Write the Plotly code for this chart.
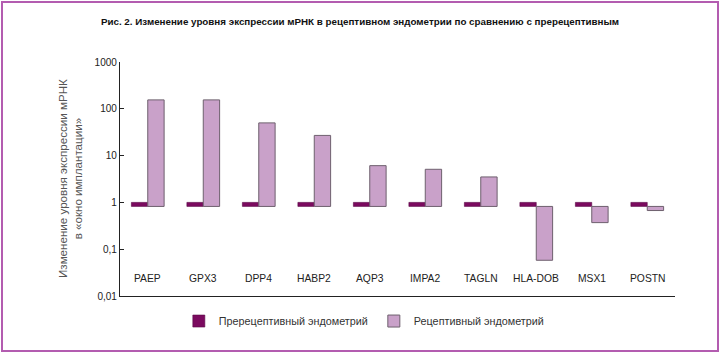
import plotly.graph_objects as go

genes = ["PAEP", "GPX3", "DPP4", "HABP2", "AQP3", "IMPA2", "TAGLN", "HLA-DOB", "MSX1", "POSTN"]
prereceptive = [1, 1, 1, 1, 1, 1, 1, 1, 1, 1]
receptive = [155, 155, 50, 27, 6.1, 5.1, 3.5, 0.058, 0.37, 0.67]
bar_base = 0.82

y_tickvals = [0.01, 0.1, 1, 10, 100, 1000]
y_ticktext = ["0,01", "0,1", "1", "10", "100", "1000"]

title_text = "Рис. 2. Изменение уровня экспрессии мРНК в рецептивном эндометрии по сравнению с пререцептивным"
ytitle_text = "Изменение уровня экспрессии мРНК<br>в «окно имплантации»"
names = ["Пререцептивный эндометрий", "Рецептивный эндометрий"]

dark = "#7b0a5f"
light = "#c9a1c9"

fig = go.Figure()
fig.add_trace(go.Bar(
    x=genes, y=[v - bar_base for v in prereceptive], base=[bar_base] * len(genes),
    name=names[0], marker=dict(color=dark, line=dict(color="#5a0846", width=0.6)),
))
fig.add_trace(go.Bar(
    x=genes, y=[v - bar_base for v in receptive], base=[bar_base] * len(genes),
    name=names[1], marker=dict(color=light, line=dict(color="#6e606e", width=1)),
))

annotations = [dict(text=ytitle_text, textangle=-90, xref="paper", yref="paper",
                    x=(70 - 120) / 555, y=(296 - 179) / 234, xanchor="center", yanchor="middle",
                    showarrow=False, font=dict(size=11.6, color="#555"))]
for g in genes:
    annotations.append(dict(text=g, x=g, xref="x", yref="paper", y=(296 - 278) / 234,
                            xanchor="center", yanchor="middle", showarrow=False,
                            font=dict(size=10.3, color="#222")))

fig.update_layout(
    width=720, height=353,
    margin=dict(l=120, r=45, t=62, b=57),
    paper_bgcolor="white", plot_bgcolor="white",
    barmode="group", bargap=0.41, bargroupgap=0,
    font=dict(family="Liberation Sans, Arial, sans-serif", color="#222"),
    title=dict(text="<b>" + title_text + "</b>", xref="container", x=0.5, xanchor="center",
               yref="container", y=1 - 22 / 353, yanchor="middle",
               font=dict(family="Liberation Sans, Arial", size=9.8, color="#111")),
    showlegend=True,
    legend=dict(orientation="h", x=0.106, xanchor="left", y=-0.107, yanchor="middle",
                font=dict(size=10.8, color="#333"), entrywidth=150, entrywidthmode="pixels",
                bgcolor="rgba(0,0,0,0)", traceorder="normal"),
    xaxis=dict(type="category", showline=True, linecolor="#222", linewidth=1.3,
               ticks="", showgrid=False, showticklabels=False, range=[-0.5, 9.5], fixedrange=True),
    yaxis=dict(type="log", range=[-2.0, 3.0], showline=True, linecolor="#222", linewidth=1.3,
               ticks="inside", ticklen=4, tickcolor="#222", showgrid=False, zeroline=False,
               tickvals=y_tickvals, ticktext=y_ticktext, tickfont=dict(size=10, color="#222")),
    annotations=annotations,
    shapes=[dict(type="rect", xref="paper", yref="paper",
                 x0=(2 - 120) / 555, x1=(718 - 120) / 555,
                 y0=(296 - 351) / 234, y1=(296 - 2) / 234,
                 line=dict(color="#b35cb0", width=2), fillcolor="rgba(0,0,0,0)", layer="below")],
)

fig.write_html("out.html")
